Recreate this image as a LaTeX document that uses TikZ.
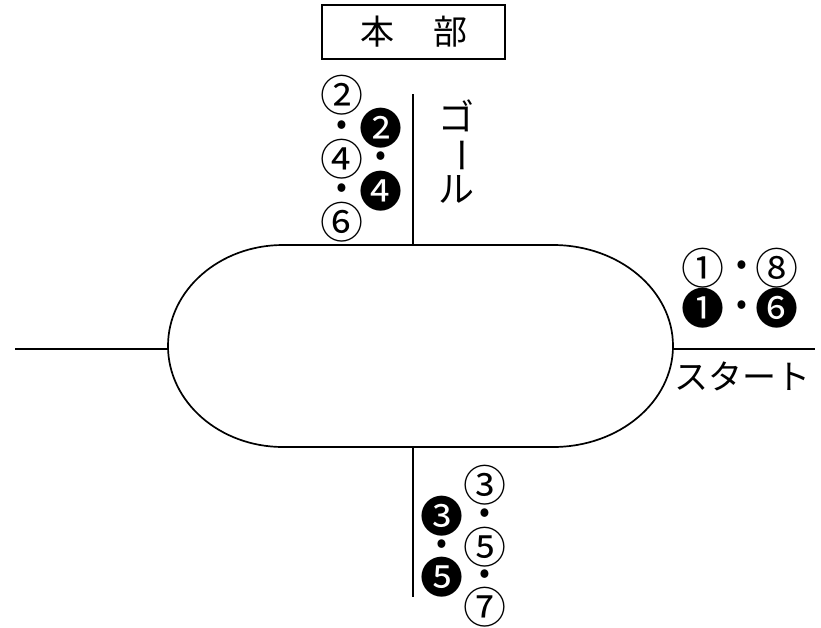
\documentclass[tikz,border=0pt]{standalone}
\usepackage{fontspec}
\setmainfont{Noto Sans CJK JP}
\begin{document}
\begin{tikzpicture}[x=1pt,y=-1pt,
  ln/.style={line width=1.7pt},
  lbl/.style={inner sep=0pt,font=\fontsize{34}{34}\selectfont},
  num/.style={inner sep=0pt,font=\fontsize{43}{43}\selectfont},
  dot/.style={inner sep=0pt,font=\fontsize{32}{32}\selectfont}]
\useasboundingbox (0,0) rectangle (821,627);
% headquarters box
\node[draw,ln,minimum width=183pt,minimum height=54pt,inner sep=0pt] (hq) at (413.5,32) {};
\node[lbl] (hon) at (377,32) {本};
\node[lbl] (bu) at (450,32) {部};
% track
\coordinate (tl) at (283,245);
\coordinate (tr) at (553,245);
\coordinate (br) at (553,447);
\coordinate (bl) at (283,447);
\draw[ln] (tl) -- (tr) arc[start angle=-90,end angle=90,x radius=120,y radius=101]
  -- (bl) arc[start angle=90,end angle=270,x radius=115,y radius=101] -- cycle;
\coordinate (lend) at (168,349);
\coordinate (lfree) at (15,349);
\coordinate (rend) at (673,349);
\coordinate (rfree) at (815,349);
\coordinate (ttop) at (413,94);
\coordinate (tjoin) at (413,245);
\coordinate (bjoin) at (413,447);
\coordinate (bbot) at (413,597);
\draw[ln] (lfree) -- (lend);
\draw[ln] (rend) -- (rfree);
\draw[ln] (ttop) -- (tjoin);
\draw[ln] (bjoin) -- (bbot);
% goal
\node[lbl,font=\fontsize{36}{36}\selectfont] (go) at (456,116) {ゴ};
\node[lbl,font=\fontsize{36}{36}\selectfont,rotate=-90] (bar) at (456,155) {ー};
\node[lbl,font=\fontsize{36}{36}\selectfont] (ru) at (456,189) {ル};
% top-left numbers
\node[num] (t1) at (342,95) {②};
\node[dot] (t2) at (342,128) {•};
\node[num] (t3) at (381,128) {❷};
\node[num] (t4) at (342,159) {④};
\node[dot] (t5) at (381,159) {•};
\node[dot] (t6) at (342,191) {•};
\node[num] (t7) at (381,191) {❹};
\node[num] (t8) at (342,222) {⑥};
% right numbers
\node[num] (r1) at (703,268) {①};
\node[dot] (r2) at (742,268) {•};
\node[num] (r3) at (777,268) {⑧};
\node[num] (r4) at (703,308) {❶};
\node[dot] (r5) at (742,308) {•};
\node[num] (r6) at (777,308) {❻};
\node[lbl] (start) at (742,376) {スタート};
% bottom numbers
\node[num] (b1) at (485,485) {③};
\node[num] (b2) at (442,516) {❸};
\node[dot] (b3) at (485,516) {•};
\node[dot] (b4) at (442,547) {•};
\node[num] (b5) at (485,547) {⑤};
\node[num] (b6) at (442,577) {❺};
\node[dot] (b7) at (485,577) {•};
\node[num] (b8) at (485,607) {⑦};
\end{tikzpicture}
\end{document}
